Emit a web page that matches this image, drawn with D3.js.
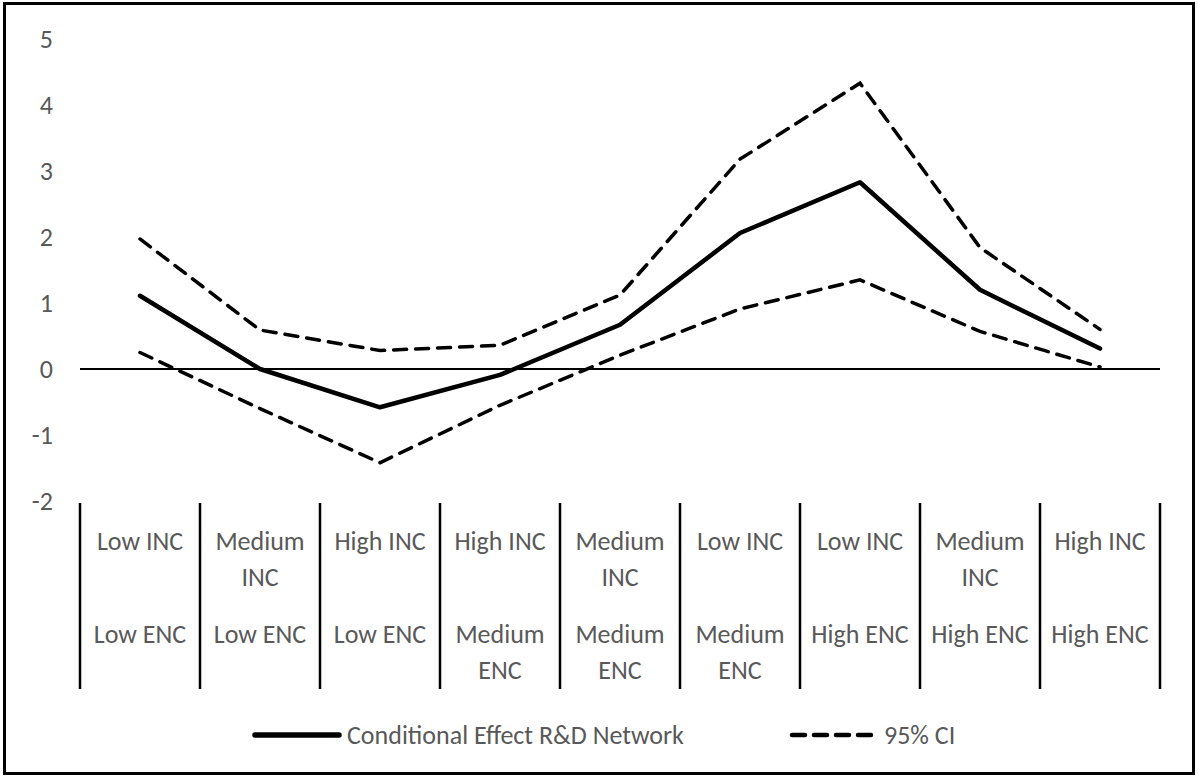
<!DOCTYPE html>
<html>
<head>
    <meta charset="utf-8">
    <script src="https://d3js.org/d3.v7.min.js"></script>
    <style>
        body { margin: 0; background: #fff; }
        text { font-family: Carlito, Calibri, Lato, sans-serif; fill: #595959; }
    </style>
</head>
<body>
    <script>
        // categories (two-level labels)
        var incLabels = ["Low INC", "Medium INC", "High INC", "High INC", "Medium INC",
                         "Low INC", "Low INC", "Medium INC", "High INC"];
        var encLabels = ["Low ENC", "Low ENC", "Low ENC", "Medium ENC", "Medium ENC",
                         "Medium ENC", "High ENC", "High ENC", "High ENC"];

        // series
        var effect  = [1.11, 0.00, -0.58, -0.09, 0.67, 2.06, 2.83, 1.20, 0.31];
        var upperCI = [1.97, 0.59, 0.28, 0.36, 1.12, 3.18, 4.33, 1.84, 0.60];
        var lowerCI = [0.25, -0.60, -1.42, -0.55, 0.21, 0.91, 1.35, 0.57, 0.03];

        var yTicks = [-2, -1, 0, 1, 2, 3, 4, 5];

        var fontSize = "26px";

        var W = 1198, H = 778;
        var svg = d3.select("body").append("svg")
            .attr("width", W)
            .attr("height", H);

        // chart border
        svg.append("rect")
            .attr("x", 4.5).attr("y", 3.5)
            .attr("width", 1189).attr("height", 770)
            .style("fill", "none")
            .style("stroke", "#000")
            .style("stroke-width", 3);

        var idx = d3.range(incLabels.length);

        var x = d3.scaleBand()
            .domain(idx)
            .range([80, 1160]);

        var y = d3.scaleLinear()
            .domain([-2, 5])
            .range([501, 39]);

        // y axis labels
        var yAxis = d3.axisLeft(y)
            .tickValues(yTicks)
            .tickSize(0)
            .tickPadding(7)
            .tickFormat(d => String(d));

        var gy = svg.append("g")
            .attr("transform", "translate(60,0)")
            .call(yAxis);
        gy.select(".domain").remove();
        gy.selectAll("text")
            .style("font-size", fontSize)
            .style("font-family", "Carlito, Calibri, Lato, sans-serif")
            .attr("fill", "#595959");

        // zero line
        svg.append("line")
            .attr("x1", x.range()[0]).attr("x2", x.range()[1])
            .attr("y1", y(0)).attr("y2", y(0))
            .style("stroke", "#000")
            .style("stroke-width", 2);

        // category separators
        var edges = idx.map(function (i) { return x(i); }).concat([x.range()[1]]);
        svg.append("g").selectAll("line")
            .data(edges)
            .enter().append("line")
            .attr("x1", d => d).attr("x2", d => d)
            .attr("y1", 503).attr("y2", 689)
            .style("stroke", "#000")
            .style("stroke-width", 2.5);

        // wrapped category labels
        function labelRow(labels, top) {
            var g = svg.append("g");
            labels.forEach(function (lab, i) {
                var t = g.append("text")
                    .attr("x", x(i) + x.bandwidth() / 2)
                    .attr("y", top)
                    .attr("text-anchor", "middle")
                    .style("font-size", fontSize)
                    .text(lab);
                if (t.node().getComputedTextLength() > x.bandwidth() - 4) {
                    var words = lab.split(" ");
                    t.text(null);
                    words.forEach(function (w, k) {
                        t.append("tspan")
                            .attr("x", x(i) + x.bandwidth() / 2)
                            .attr("y", top + k * 36)
                            .text(w);
                    });
                }
            });
        }
        labelRow(incLabels, 550);
        labelRow(encLabels, 643);

        // lines
        var line = d3.line()
            .x(function (d, i) { return x(i) + x.bandwidth() / 2; })
            .y(function (d) { return y(d); });

        [upperCI, lowerCI].forEach(function (s) {
            svg.append("path")
                .datum(s)
                .attr("d", line)
                .style("fill", "none")
                .style("stroke", "#000")
                .style("stroke-width", 3.5)
                .style("stroke-dasharray", "13,9")
                .style("stroke-linecap", "round");
        });

        svg.append("path")
            .datum(effect)
            .attr("d", line)
            .style("fill", "none")
            .style("stroke", "#000")
            .style("stroke-width", 4.5)
            .style("stroke-linejoin", "round")
            .style("stroke-linecap", "round");

        // legend
        var legend = [
            {name: "Conditional Effect R&D Network", dash: null, x0: 255},
            {name: "95% CI", dash: "13,9", x0: 792}
        ];
        var lg = svg.append("g").selectAll("g")
            .data(legend)
            .enter().append("g");
        lg.append("line")
            .attr("x1", d => d.x0).attr("x2", d => d.x0 + 84)
            .attr("y1", 735).attr("y2", 735)
            .style("stroke", "#000")
            .style("stroke-width", d => d.dash ? 4.5 : 5.5)
            .style("stroke-linecap", "round")
            .style("stroke-dasharray", d => d.dash);
        lg.append("text")
            .attr("x", d => d.x0 + 92)
            .attr("y", 744)
            .style("font-size", fontSize)
            .text(d => d.name);
    </script>
</body>
</html>
